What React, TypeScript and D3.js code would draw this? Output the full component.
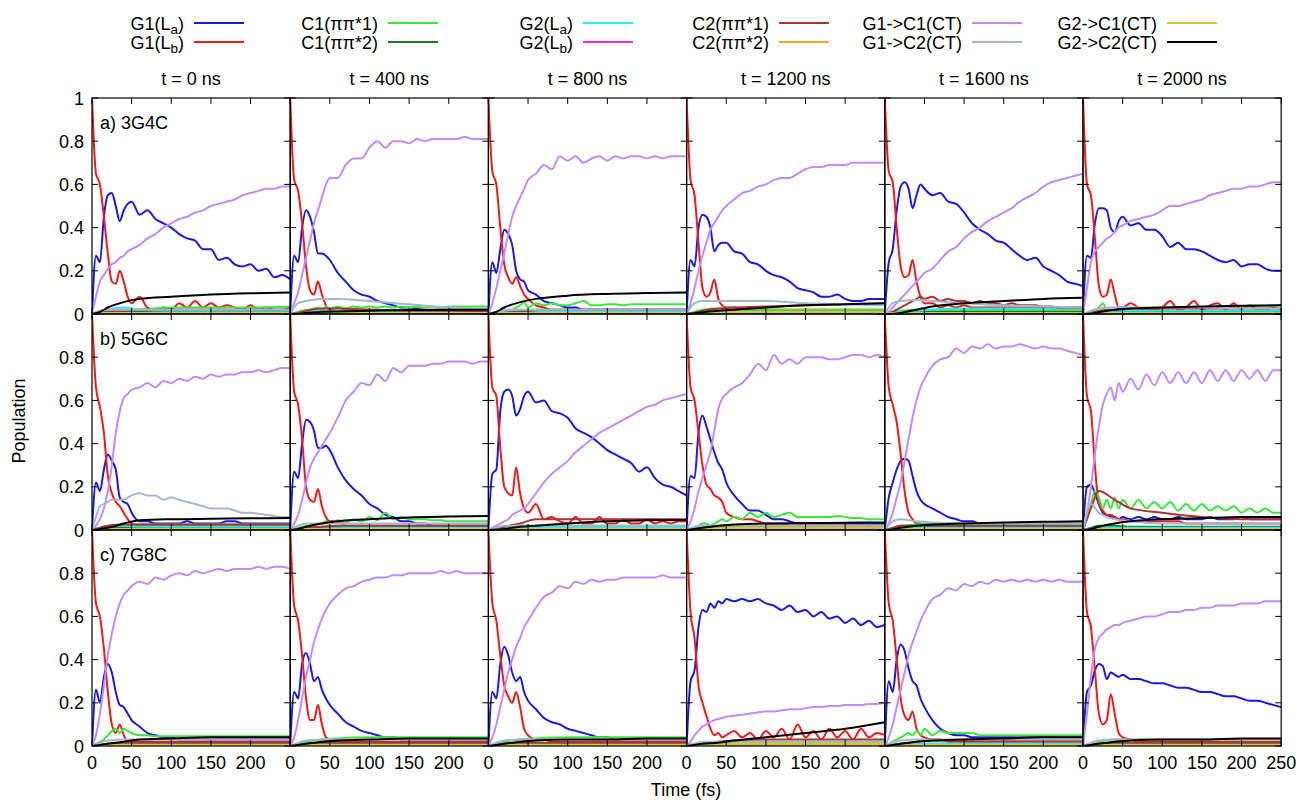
import React from "react";
import * as d3 from "d3";

// ---------- time grids (fs) ----------
const T = [0,5,10,15,20,25,30,35,40,45,50,60,70,80,90,100,110,120,130,140,150,160,170,180,190,200,210,220,230,240,250];
const TC = [0,10,20,40,60,100,150,200,250];

const ROW_LABELS = ["a) 3G4C", "b) 5G6C", "c) 7G8C"];
const COL_TITLES = ["t = 0 ns", "t = 400 ns", "t = 800 ns", "t = 1200 ns", "t = 1600 ns", "t = 2000 ns"];
const X_TICKS = [0, 50, 100, 150, 200, 250];
const Y_TICKS = [0, 0.2, 0.4, 0.6, 0.8, 1];

// ---------- populations (percent) ----------
// G1(La) blue
const LA_A = [
  [0,27,24,45,55,56,50,43,48,51,52,46,48,44,42,40,37,35,34,30,30,25,26,23,22,23,20,21,17,18,16],
  [0,27,24,40,48,45,38,28,28,27,25,19,15,11,9,8,6,5,4,3,3,2.5,2,2,2,2,2,2,2,2,2],
  [0,24,19,30,39,37,32,20,16,15,11,9,6,5,4,3,3,2,2,2,2,2,2,2,2,2,2,2,2,2,2],
  [0,25,22,40,46,45,40,29,32,33,33,29,28,24,23,20,18,17,15,12,11,10,8,8,9,7,6,6,7,7,7],
  [0,24,30,48,59,61,58,49,55,60,58,55,56,52,51,47,42,39,37,34,33,30,27,25,26,22,20,18,15,14,13],
  [0,27,26,42,49,49,48,40,38,43,45,41,42,39,39,36,31,33,30,30,29,27,25,24,25,22,23,23,21,20,20],
];
const LA_B = [
  [0,22,18,28,35,32,28,15,13,12,8,4,4,3,3,3,3,4,3,3,3,3,4,4,3,3,3,3,3,3,3],
  [0,27,24,40,51,50,46,38,38,39,37,29,23,19,16,12,10,7,6,4,4,3,3,2,2,2,2,2,2,2,2],
  [0,26,28,55,64,65,62,53,56,62,64,59,60,55,54,52,47,45,43,40,37,35,33,31,27,29,24,21,20,18,16],
  [0,25,24,45,53,48,42,36,31,28,22,16,12,9,9,7,5,5,4,3,3,3,3,3,3,3,3,3,3,3,3],
  [0,15,22,28,32,33,32,25,18,14,12,10,8,6,5,4,4,3,3,3,3,3,3,3,3,3,3,3,3,3,3],
  [0,20,21,17,12,8,7,6,6,5,6,5,6,5,6,5,5,6,5,5,5,6,5,5,5,6,5,5,5,5,5],
];
const LA_C = [
  [0,26,20,32,38,34,25,19,18,15,12,9,6,5,4,4,3,3,3,3,3,3,3,3,3,3,3,3,3,3,3],
  [0,25,22,38,43,38,30,32,26,22,19,15,11,9,7,6,5,4,4,3,3,3,3,3,3,3,3,3,3,3,3],
  [0,25,22,38,46,42,34,30,32,25,21,17,13,11,10,8,7,6,5,4,4,3,3,3,3,3,3,3,3,3,3],
  [0,30,35,55,63,62,66,64,67,66,68,67,68,67,68,66,65,63,65,62,63,60,62,59,60,57,59,56,58,55,56],
  [0,30,25,40,47,44,36,30,28,22,18,12,8,6,5,5,4,4,4,4,4,4,4,4,4,4,4,4,4,4,4],
  [0,25,28,35,38,37,31,34,33,32,33,31,31,30,29,29,28,27,27,26,25,25,24,23,23,22,21,21,20,19,18],
];
// G1(Lb) red
const LB_A = [
  [100,65,60,45,28,15,14,20,15,8,5,8,3,2,3,2,5,3,6,3,5,3,4,3,2,4,2,3,2,2,3],
  [100,62,57,42,22,11,9,15,9,4,2,3,2,2,2,2,2,1.5,1.5,1.5,1.5,1,1,1,1,1,1,1,1,1,1],
  [100,66,60,40,23,17,14,17,13,9,7,4,3,2,2,2,2,2,2,2,2,2,2,2,2,2,2,2,2,2,2],
  [100,62,55,33,12,8,10,16,7,4,3,3,2,2,2,2,2,2,2,2,2,2,2,2,2,2,2,2,2,2,2],
  [100,66,61,40,22,17,18,25,15,8,5,5,3,4,3,4,3,3,3,3,3,3,3,3,3,3,3,3,3,3,3],
  [100,60,55,35,13,8,9,16,9,3,3,5,3,2,2,3,6,2,3,6,2,4,5,2,5,2,4,2,2,3,2],
];
const LB_B = [
  [100,66,57,45,25,17,13,11,8,5,3,2,2,2,2,2,2,2,2,2,2,2,2,2,2,2,2,2,2,2,2],
  [100,64,58,42,20,14,13,19,11,6,4,4,2,2,2,2,2,2,2,2,2,2,2,2,2,2,2,2,2,2,2],
  [100,66,62,38,20,17,16,29,17,10,8,12,5,6,4,3,6,3,3,6,3,3,5,3,3,5,3,4,3,4,4],
  [100,66,60,45,30,21,19,16,15,13,8,6,5,5,4,3,3,3,2,2,2,2,2,2,2,2,2,2,2,2,2],
  [100,66,58,50,35,18,8,5,3,3,2,2,2,2,2,2,2,2,2,2,2,2,2,2,2,2,2,2,2,2,2],
  [100,62,55,30,12,9,7,7,6,5,5,4,4,4,4,4,4,4,3,3,3,3,3,3,3,3,3,3,3,3,3],
];
const LB_C = [
  [100,66,60,45,25,10,6,10,5,2,2,2,2,2,2,2,2,2,2,2,2,2,2,2,2,2,2,2,2,2,2],
  [100,65,58,42,22,12,12,19,10,4,3,2,2,2,2,2,2,2,2,2,2,2,2,2,2,2,2,2,2,2,2],
  [100,66,58,42,28,23,20,25,18,8,5,3,3,2,2,2,2,2,2,2,2,2,2,2,2,2,2,2,2,2,2],
  [100,62,50,28,20,14,8,5,6,4,5,7,4,6,3,7,4,8,3,10,4,7,3,8,4,7,3,8,4,6,5],
  [100,66,58,40,22,14,12,16,8,5,4,3,3,2,2,2,2,2,2,2,2,2,2,2,2,2,2,2,2,2,2],
  [100,62,55,35,15,10,12,24,15,6,4,3,2,2,2,2,2,2,2,2,2,2,2,2,2,2,2,2,2,2,2],
];
// C1(pipi*1) green
const C1A_A = [
  [0,1,1,2,2,3,3,3,3.5],
  [0,0.5,1,1.5,2,2,2.5,3,2,3.5,2.5,3.5,2.5,3.5,3,3.5,3,3.5,3,3.5,3,3.5,3,3.5,3,3.5,3.5,3.5,3.5,3.5,3.5],
  [0,0,1,1,1,2,2,3,4,5.5,3,5,4,5,4,4,5,6,4,4,4.5,4.5,4,4.5,4.5,4.5,4.5,4.5,4.5,4.5,4.5],
  [0,1,2,2.5,2,2,2,2,2],
  [0,1,1.5,2,2,2,2,2,2],
  [0,0.5,1,2,3,5,2,2,2,2,3,2.5,3,2.5,3,3,3,3,3,3,3,3,3.5,3.5,3.5,3.5,4,4,4,4,4],
];
const C1A_B = [
  [0,1,1.5,2,2.5,2.5,2.5,2.5,2.5],
  [0,0.5,1,1.5,2,2,2.5,3,3,4,3.5,4.5,3.5,5,4,6,4.5,8,5,6,5,5,5,4.5,4.5,4,4,4,4,4,4],
  [0,1,1.5,2,2,2,2,2,2],
  [0,0,1,2,3,3,2,3,4,5,4,6,5,8,6,8,6,7,8,6,6,6,6,6,6.5,6,5.5,5.5,5,5,5],
  [0,1,2,2.5,3,3,3,3,3],
  [0,5,12,18,15,10,14,10,15,10,14,10,14,10,13,10,13,9,12,9,12,9,11,9,11,8,10,8,10,8,8],
];
const C1A_C = [
  [0,1,2,3,5,7,8,6,8,7,6,5,5,4.5,4.5,4.5,4.5,4.5,4.5,4.5,4.5,4.5,4.5,4.5,4.5,4.5,4.5,4.5,4.5,4.5,4.5],
  [0,1,2,3,3.5,4,4,4,4],
  [0,1,2,3,3.5,4,4,4,4],
  [0,1,1.5,2,2,2,2,2,2],
  [0,1,2,3,4,5,6,5,7,5,8,5,7,6,6,6,6,5,5,5,5,5,5,5,5,5,5,5,5,5,5],
  [0,1,2,3,3,3,3,3,3],
];
// C1(pipi*2) dark green
const C1B_A = [[0,0.5,1,1,1,1,1,1,1],[0,0.5,1,1,1,1,1,1,1],[0,0.5,1,1,1,1,1,1,1],[0,0.5,1,1,1,1,1,1,1],[0,0.5,1,1,1,1,1,1,1],[0,0.5,1,1,1,1,1,1,1]];
const C1B_B = [[0,0.5,1,1,1,1,1,1,1],[0,0.5,1,1,1,1,1,1,1],[0,0.5,1,1,1,1,1,1,1],[0,0.5,1,1,1,1,1,1,1],[0,0.5,1,1,1,1,1,1,1],[0,1,2,2,1.5,1.5,1.5,1.5,1.5]];
const C1B_C = [[0,0.5,1,1,1,1,1,1,1],[0,0.5,1,1,1,1,1,1,1],[0,0.5,1,1,1,1,1,1,1],[0,0.5,1,1,1,1,1,1,1],[0,0.5,1,1,1,1,1,1,1],[0,0.5,1,1,1,1,1,1,1]];
// G2(La) cyan
const G2A_A = [[0,1,2,3,2,1.5,1.5,1.5,1.5],[0,0.5,1,1.5,1.5,1,1,1,1],[0,1,2,2,1.5,1,1,1,1],[0,0.5,1,1,1,1,1,1,1],[0,0.5,1,1.5,2,2.5,2.5,2.5,2.5],[0,0.5,1,1.5,1.5,1.5,1.5,1.5,1.5]];
const G2A_B = [[0,1,2,2,1.5,1.5,1.5,1.5,1.5],[0,0.5,1,1.5,1.5,1,1,1,1],[0,0.5,1,1,1,1,1,1,1],[0,0.5,1,1,1,1,1,1,1],[0,0.5,1,1,1,1,1,1,1],[0,0.5,1,1,1,1,1,1,1]];
const G2A_C = [[0,0.5,1,1,1,1,1,1,1],[0,0.5,1,1,1,1,1,1,1],[0,0.5,1,1,1,1,1,1,1],[0,0.5,1,1,1,1,1,1,1],[0,0.5,1,1,1,1,1,1,1],[0,0.5,1,1,1,1,1,1,1]];
// G2(Lb) magenta
const G2B_A = [[0,0.5,0.5,0.5,0.5,0.5,0.5,0.5,0.5],[0,0.5,0.5,0.5,0.5,0.5,0.5,0.5,0.5],[0,0.5,0.5,0.5,0.5,0.5,0.5,0.5,0.5],[0,0.5,0.5,0.5,0.5,0.5,0.5,0.5,0.5],[0,0.5,0.5,0.5,0.5,0.5,0.5,0.5,0.5],[0,0.5,0.5,0.5,0.5,0.5,0.5,0.5,0.5]];
const G2B_B = G2B_A;
const G2B_C = G2B_A;
// C2(pipi*1) brown
const C2A_A = [
  [0,0.5,1,1.5,2,2,2,2,2],
  [0,0.5,1.5,2.5,2.5,2,1.5,1.5,1],
  [0,0.5,1,1.5,2,2,2,2,2],
  [0,0.5,1.5,2.5,3,3.5,4,4.5,5],
  [0,0.5,1,2,3,4,5,6,7,8,7,8,6,7,6,6,5,6,5,5,4,5,4,4,4,3.5,3.5,3,3,3,3],
  [0,0.5,1.5,2,2.5,2.5,2.5,2.5,2.5],
];
const C2A_B = [[0,1,2,2.5,2.5,2.5,2.5,2.5,2.5],[0,0.5,1,1.5,2,2,2,2,2],[0,0.5,1.5,3,5,5,5,5,5],[0,0.5,1,1.5,2,2,2,2,2],[0,1,2,2,2,2,2,2,2],[0,10,18,14,10,8,6,5,5]];
const C2A_C = [[0,0.5,1,1.5,1.5,1.5,1.5,1.5,1.5],[0,0.5,1,1.5,1.5,1.5,1.5,1.5,1.5],[0,0.5,1,1.5,1.5,1.5,1.5,1.5,1.5],[0,0.5,1,2,2.5,3,3,3,3],[0,0.5,1,2,2.5,2.5,2.5,2.5,2.5],[0,0.5,1,1.5,1.5,1.5,1.5,1.5,1.5]];
// C2(pipi*2) orange
const C2B_A = [[0,0.3,0.5,0.5,0.5,0.5,0.5,0.5,0.5],[0,0.3,0.5,0.5,0.5,0.5,0.5,0.5,0.5],[0,0.3,0.5,0.5,0.5,0.5,0.5,0.5,0.5],[0,0.3,0.5,0.5,0.5,0.5,0.5,0.5,0.5],[0,0.3,0.5,0.5,0.5,0.5,0.5,0.5,0.5],[0,0.3,0.5,0.5,0.5,0.5,0.5,0.5,0.5]];
const C2B_B = C2B_A;
const C2B_C = C2B_A;
// G1->C1(CT) purple
const G1C1_A = [
  [0,8,15,18,21,23,24,26,27,29,30,32,35,37,40,42,44,45,47,48,50,51,52,53,55,56,57,58,58,59,59],
  [0,5,10,18,26,34,42,48,54,60,63,63,69,72,72,77,80,77,80,80,79,81,80,81,81,81,81,82,81,81,81],
  [0,5,12,20,28,37,45,50,54,58,62,65,69,67,73,71,73,70,72,73,71,73,72,73,73,72,73,72,73,73,73],
  [0,5,12,20,27,33,39,42,45,48,50,53,56,57,59,60,62,63,63,65,67,68,68,69,69,69,70,70,70,70,70],
  [0,1,3,5,7,9,11,13,15,17,19,21,25,29,31,35,38,40,43,45,47,49,52,54,56,59,61,62,63,64,65],
  [0,12,24,29,31,33,35,36,38,40,41,43,44,45,46,48,50,50,51,52,53,55,56,57,58,58,59,59,60,61,61],
];
const G1C1_B = [
  [0,2,5,10,18,30,45,55,61,63,65,66,68,66,69,68,70,69,71,70,72,71,72,72,73,73,74,73,74,75,75],
  [0,3,7,14,22,29,33,36,39,42,45,52,60,64,68,67,72,69,75,73,76,76,76,77,77,78,78,78,77,78,78],
  [0,1,2,3,4,5,7,8,9,10,12,17,22,26,29,32,36,39,42,45,47,49,51,53,55,57,58,60,61,62,63],
  [0,4,10,18,24,30,36,46,56,61,63,66,68,72,77,74,81,77,79,77,80,80,80,79,79,80,81,81,80,81,80],
  [0,3,8,15,22,32,42,52,60,66,70,76,79,80,84,82,85,84,86,84,85,85,86,85,84,85,84,84,83,82,81],
  [0,8,20,35,48,58,63,66,60,68,64,70,65,72,67,73,68,73,68,73,68,74,69,74,69,74,70,74,69,74,74],
];
const G1C1_C = [
  [0,5,15,28,42,52,60,66,70,72,74,76,75,78,77,79,80,79,81,80,81,82,81,82,82,82,83,82,83,83,82],
  [0,4,12,22,32,40,48,54,59,63,66,70,73,74,76,77,78,78,79,79,80,80,80,80,81,80,81,80,80,80,80],
  [0,4,10,18,26,34,40,46,50,55,58,64,69,71,74,73,76,75,77,76,77,77,78,78,78,78,78,79,78,78,78],
  [0,2,5,7,9,10,11,12,12.5,13,13.5,14,14.5,15,15.5,16,16,16.5,17,17,17.5,18,18,18.5,18.5,19,19,19,19.5,19.5,20],
  [0,4,10,18,26,34,42,48,53,58,62,68,70,73,72,75,74,76,75,77,76,77,76,77,76,77,76,77,76,76,76],
  [0,15,32,45,50,52,54,55,56,56,57,58,59,60,60,61,62,62,63,63,64,64,65,65,65,66,66,66,67,67,67],
];
// G1->C2(CT) grey-blue
const G1C2_A = [[0,1.5,2,2,2,2,2,2,2],[0,5,6,7,7,6,4.5,3,2.5],[0,1,1.5,2,2,2,2,2,2],[0,5,6,6,6,6,5,4.5,4],[0,5,6,6.5,6,5,4,3.5,3],[0,1.5,2.5,3,3,3,3,2.5,2.5]];
const G1C2_B = [
  [0,6,11,12,13,14,14,14,14,15,16,17,16,16,14,15,14,13,12,11,10,10,10,9,8,8,7.5,7,6.5,6,6],
  [0,2,3,3,3,3,3,3,3],
  [0,1,2,2,2,2,2,2,2],
  [0,1.5,2,2,2,2,2,2,2],
  [0,4,5,4,3.5,3,3,3,3],
  [0,12,8,5,4,3,3,3,3],
];
const G1C2_C = [[0,1.5,2.5,3,3,3,3,3,3],[0,1.5,2.5,3,3,3,3,3,3],[0,1.5,2.5,3,3,3,3,3,3],[0,1,2,2,2,2,2,2,2],[0,1.5,2.5,3,3,3,3,3,3],[0,1.5,2.5,3,3,3,3,3,3]];
// G2->C1(CT) yellow
const G2C1_A = [[0,0.3,0.5,0.5,0.5,0.5,0.5,0.5,0.5],[0,0.3,0.5,0.5,0.5,0.5,0.5,0.5,0.5],[0,0.3,0.5,0.5,0.5,0.5,0.5,0.5,0.5],[0,0.3,0.5,0.8,1,1,1,1,1],[0,0.3,0.5,0.5,0.5,0.5,0.5,0.5,0.5],[0,0.3,0.5,0.5,0.5,0.5,0.5,0.5,0.5]];
const G2C1_B = G2C1_A;
const G2C1_C = G2C1_A;
// G2->C2(CT) black
const G2C2_A = [[0,1,3,5.5,7,8,9,9.6,10],[0,0.2,0.5,1,1.2,1.5,1.8,2,2],[0,1,3,5.5,7,8.5,9.3,9.7,10],[0,0.3,0.8,1.5,2,3,4,4.5,5],[0,0,0.5,2,3.5,5,6,7,7.5],[0,0.2,0.8,2,2.5,3,3.5,3.8,4]];
const G2C2_B = [[0,0.5,1,3,4.5,5,5.2,5.4,5.5],[0,0.5,1.5,3,4,5,5.8,6.2,6.5],[0,0.2,0.5,1.5,2,3,4,4.5,4.6],[0,0.5,1,2,2.5,3,3.2,3.4,3.5],[0,0.3,1,2,2.5,3,3.5,3.8,4],[0,0.5,1.5,3,4,5,5.5,6,6]];
const G2C2_C = [[0,0.5,1,2,3,3.5,4,4,4],[0,0.5,1,2,2.5,3,3.5,3.5,3.5],[0,0.5,1,2,2.5,3,3,3.5,3.5],[0,0.5,1,1.5,2.5,4,6,8,11],[0,0.5,1,2,2.5,3,3.5,4,4],[0,0.5,1,2,2.5,3,3,3.5,3.5]];

// ---------- series styles (draw order = legend order) ----------
const SERIES = [
  { label: "G1(L_a)", color: "#1a1ae6", data: [LA_A, LA_B, LA_C] },
  { label: "G1(L_b)", color: "#f01a1a", data: [LB_A, LB_B, LB_C] },
  { label: "C1(ππ*1)", color: "#3ce83c", data: [C1A_A, C1A_B, C1A_C] },
  { label: "C1(ππ*2)", color: "#1e7a1e", data: [C1B_A, C1B_B, C1B_C] },
  { label: "G2(L_a)", color: "#28e8f0", data: [G2A_A, G2A_B, G2A_C] },
  { label: "G2(L_b)", color: "#f028f0", data: [G2B_A, G2B_B, G2B_C] },
  { label: "C2(ππ*1)", color: "#b03232", data: [C2A_A, C2A_B, C2A_C] },
  { label: "C2(ππ*2)", color: "#f5a623", data: [C2B_A, C2B_B, C2B_C] },
  { label: "G1->C1(CT)", color: "#c08cff", data: [G1C1_A, G1C1_B, G1C1_C] },
  { label: "G1->C2(CT)", color: "#a3b8d0", data: [G1C2_A, G1C2_B, G1C2_C] },
  { label: "G2->C1(CT)", color: "#cccc33", data: [G2C1_A, G2C1_B, G2C1_C] },
  { label: "G2->C2(CT)", color: "#000000", data: [G2C2_A, G2C2_B, G2C2_C] },
];

const LEGEND_LINE_X = [194, 388, 583, 779, 972, 1167];
const LEGEND_ROW_Y = [23, 42];

const X0 = 92, PW = 198.2, Y0 = 98, PH = 216;
const FONT = "'Liberation Sans', Arial, Helvetica, sans-serif";
const FS = 18;

function Label({ text, x, y, anchor }: { text: string; x: number; y: number; anchor: string }) {
  const m = text.match(/^(.*)_(.)(.*)$/);
  if (!m) return <text x={x} y={y} textAnchor={anchor}>{text}</text>;
  return (
    <text x={x} y={y} textAnchor={anchor}>
      {m[1]}
      <tspan dy={4} fontSize={FS * 0.75}>{m[2]}</tspan>
      <tspan dy={-4}>{m[3]}</tspan>
    </text>
  );
}

function toPoints(arr: number[]) {
  const t = arr.length === T.length ? T : TC;
  return arr.map((v, i) => [t[i], v / 100] as [number, number]);
}

function Panel({ r, c }: { r: number; c: number }) {
  const x0 = X0 + c * PW, yT = Y0 + r * PH, yB = yT + PH;
  const xs = d3.scaleLinear().domain([0, 250]).range([x0, x0 + PW]);
  const ys = d3.scaleLinear().domain([0, 1]).range([yB, yT]);
  const line = d3.line<[number, number]>().x((d) => xs(d[0])).y((d) => ys(d[1])).curve(d3.curveMonotoneX);
  const id = `clip-${r}-${c}`;
  const tl = 6;
  return (
    <g>
      <clipPath id={id}>
        <rect x={x0} y={yT} width={PW} height={PH} />
      </clipPath>
      <g clipPath={`url(#${id})`} fill="none">
        {SERIES.map((s, i) => (
          <path key={i} d={line(toPoints(s.data[r][c])) || ""} stroke={s.color} strokeWidth={2} strokeLinejoin="round" />
        ))}
      </g>
      <g stroke="#000" strokeWidth={1}>
        {X_TICKS.map((t) => (
          <g key={"x" + t}>
            <line x1={xs(t)} x2={xs(t)} y1={yB} y2={yB - tl} />
            <line x1={xs(t)} x2={xs(t)} y1={yT} y2={yT + tl} />
          </g>
        ))}
        {Y_TICKS.map((t) => (
          <g key={"y" + t}>
            <line x1={x0} x2={x0 + tl} y1={ys(t)} y2={ys(t)} />
            <line x1={x0 + PW} x2={x0 + PW - tl} y1={ys(t)} y2={ys(t)} />
          </g>
        ))}
      </g>
      <rect x={x0} y={yT} width={PW} height={PH} fill="none" stroke="#000" strokeWidth={1.2} />
      {c === 0 && (
        <text x={x0 + 8} y={yT + 31} fontSize={FS}>{ROW_LABELS[r]}</text>
      )}
      {c === 0 &&
        Y_TICKS.filter((t) => r === 0 || t < 1).map((t) => (
          <text key={"yl" + t} x={x0 - 8} y={ys(t) + 6.5} textAnchor="end" fontSize={FS}>{d3.format("~g")(t)}</text>
        ))}
      {r === 2 &&
        X_TICKS.filter((t) => c === 5 || t < 250).map((t) => (
          <text key={"xl" + t} x={xs(t)} y={yB + 23} textAnchor="middle" fontSize={FS}>{t}</text>
        ))}
      {r === 0 && (
        <text x={x0 + PW / 2} y={yT - 13} textAnchor="middle" fontSize={FS}>{COL_TITLES[c]}</text>
      )}
    </g>
  );
}

export default function App() {
  const rows = [0, 1, 2];
  const cols = [0, 1, 2, 3, 4, 5];
  return (
    <svg width={1301} height={803} style={{ position: "absolute", left: 0, top: 0, background: "#fff" }} fontFamily={FONT} fill="#000">
      <rect x={0} y={0} width={1301} height={803} fill="#fff" />
      {/* legend */}
      <g fontSize={FS}>
        {SERIES.map((s, i) => {
          const col = Math.floor(i / 2), row = i % 2;
          const xl = LEGEND_LINE_X[col], y = LEGEND_ROW_Y[row];
          return (
            <g key={i}>
              <Label text={s.label} x={xl - 10} y={y + 6.5} anchor="end" />
              <line x1={xl} x2={xl + 50} y1={y} y2={y} stroke={s.color} strokeWidth={2} />
            </g>
          );
        })}
      </g>
      {rows.map((r) => cols.map((c) => <Panel key={r + "-" + c} r={r} c={c} />))}
      <text x={686} y={796} textAnchor="middle" fontSize={FS}>Time (fs)</text>
      <text transform="translate(25,421) rotate(-90)" textAnchor="middle" fontSize={FS}>Population</text>
    </svg>
  );
}
